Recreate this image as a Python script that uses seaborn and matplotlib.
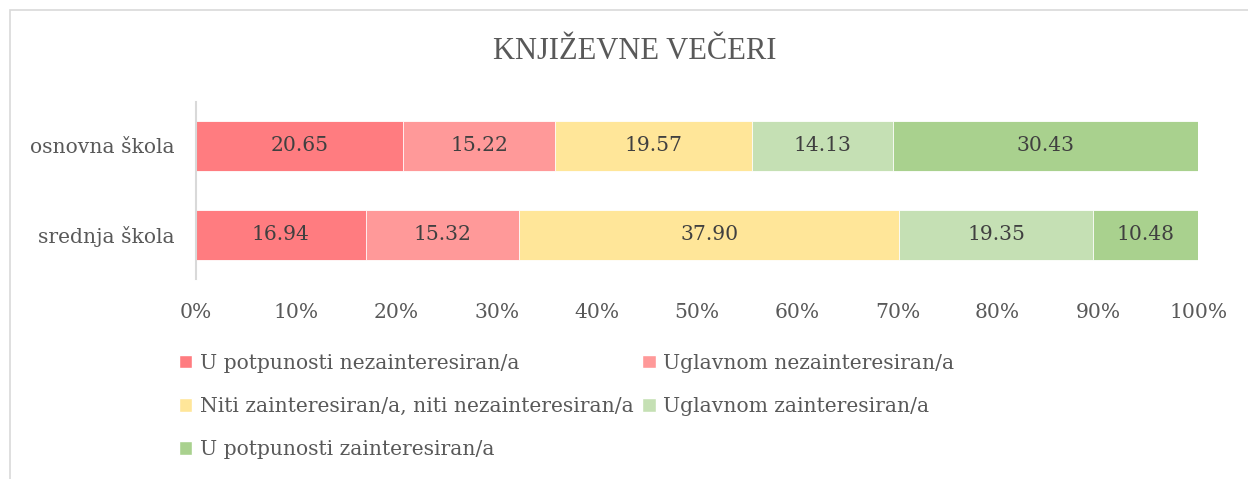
import numpy as np
import pandas as pd
import matplotlib
matplotlib.use("Agg")
import matplotlib.pyplot as plt
import seaborn as sns
from matplotlib.patches import Rectangle, Patch

# Data
groups = ["osnovna škola", "srednja škola"]
categories = ["U potpunosti nezainteresiran/a", "Uglavnom nezainteresiran/a",
              "Niti zainteresiran/a, niti nezainteresiran/a", "Uglavnom zainteresiran/a",
              "U potpunosti zainteresiran/a"]
osnovna = [20.65, 15.22, 19.57, 14.13, 30.43]
srednja = [16.94, 15.32, 37.90, 19.35, 10.48]
colors = ["#FF7C80", "#FF9999", "#FFE699", "#C5E0B4", "#A9D18E"]

sns.set_style("white")
plt.rcParams["font.family"] = ["DejaVu Serif"]
text_col = "#595959"
fs = 14.6

df = pd.DataFrame([osnovna, srednja], columns=categories, index=groups)
cum = df.cumsum(axis=1)

fig = plt.figure(figsize=(12.48, 4.79), dpi=100)
ax = fig.add_axes([0.157, 0.4165, 0.803, 0.3716])

# stacked bars: draw cumulative totals from the largest down
for cat, col in reversed(list(zip(categories, colors))):
    sns.barplot(x=cum[cat].values, y=groups, color=col, orient="h", width=0.56,
                saturation=1, edgecolor="white", linewidth=0.6, ax=ax)

for i, g in enumerate(groups):
    for cat in categories:
        v = df.loc[g, cat]
        ax.text(cum.loc[g, cat] - v / 2, i, f"{v:.2f}", ha="center", va="center",
                fontsize=fs, color="#404040")

ax.set_xlim(0, 100)
ax.set_ylim(1.5, -0.5)
ax.set_xticks(np.arange(0, 101, 10))
ax.set_xticklabels([f"{t}%" for t in range(0, 101, 10)])
ax.tick_params(axis="y", length=0, labelsize=fs, colors=text_col, pad=15)
ax.tick_params(axis="x", length=0, labelsize=fs, colors=text_col, pad=17)
ax.set_xlabel("")
ax.set_ylabel("")
for s in ["top", "right", "bottom"]:
    ax.spines[s].set_visible(False)
ax.spines["left"].set_color("#D9D9D9")
ax.spines["left"].set_linewidth(1.5)

fig.text(0.509, 0.893, "KNJIŽEVNE VEČERI", ha="center", va="center", fontsize=22,
         color=text_col, family="Liberation Serif")

handles = [Patch(facecolor=c, label=l) for c, l in zip(colors, categories)]
order = [0, 2, 4, 1, 3]
fig.legend([handles[i] for i in order], [categories[i] for i in order], ncol=2,
           loc="upper left", bbox_to_anchor=(0.1355, 0.283), frameon=False,
           fontsize=fs, labelcolor=text_col, handlelength=0.65, handleheight=0.65,
           handletextpad=0.35, columnspacing=0.45, labelspacing=1.2, borderpad=0)

fig.add_artist(Rectangle((10 / 1248, -0.1), 1.2, (479 - 10) / 479 + 0.1,
                         transform=fig.transFigure, fill=False,
                         edgecolor="#D9D9D9", linewidth=1.2))

fig.savefig("out.png", dpi=100)
